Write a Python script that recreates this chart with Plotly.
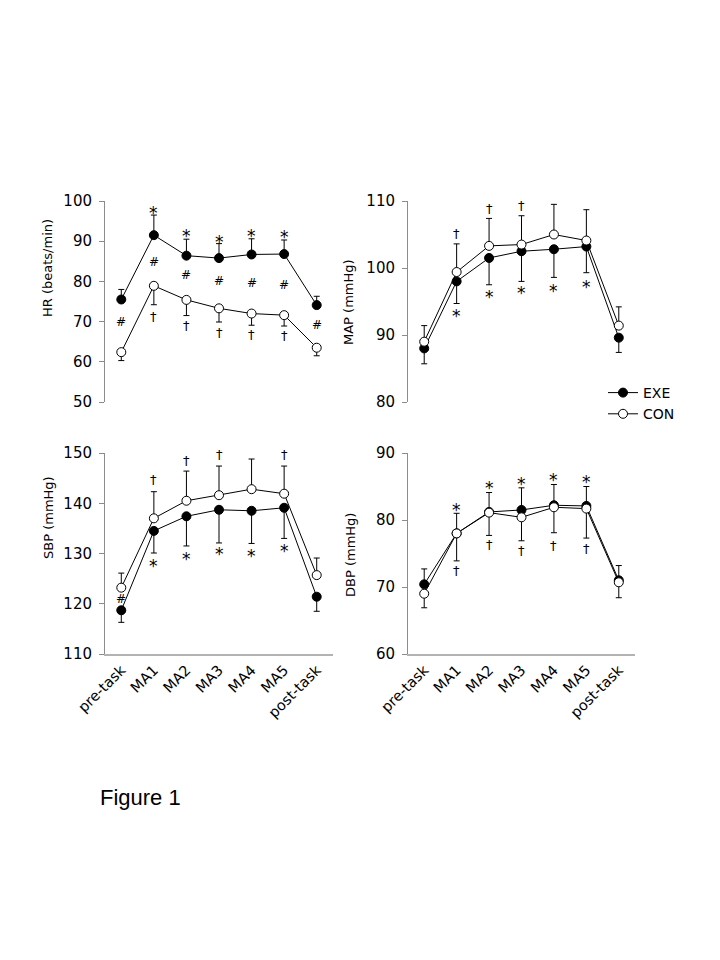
import plotly.graph_objects as go

categories = ["pre-task", "MA1", "MA2", "MA3", "MA4", "MA5", "post-task"]

# HR (beats/min)
hr_exe = [75.5, 91.5, 86.4, 85.8, 86.7, 86.8, 74.1]
hr_exe_sd = [2.5, 5.0, 4.1, 3.6, 3.9, 3.5, 2.2]
hr_con = [62.4, 78.9, 75.4, 73.3, 72.0, 71.6, 63.5]
hr_con_sd = [2.1, 4.7, 3.9, 3.4, 2.9, 2.7, 2.0]
hr_star_y = [97.9, 92.2, 90.9, 92.4, 92.0]
hr_hash_y = [69.9, 84.8, 81.5, 80.2, 79.6, 79.2, 69.1]
hr_dag_y = [71.2, 69.1, 67.2, 66.9, 66.5]

# MAP (mmHg)
map_exe = [88.0, 98.0, 101.5, 102.5, 102.8, 103.2, 89.6]
map_exe_sd = [2.3, 3.3, 4.0, 4.5, 4.2, 3.9, 2.2]
map_con = [89.0, 99.4, 103.3, 103.5, 105.0, 104.1, 91.4]
map_con_sd = [2.4, 4.2, 4.1, 4.3, 4.5, 4.6, 2.8]
map_dag_y = [105.2, 108.9, 109.4, 111.0, 110.1]
map_star_y = [93.4, 96.3, 96.8, 97.2, 97.7]

# SBP (mmHg)
sbp_exe = [118.7, 134.5, 137.4, 138.7, 138.5, 139.1, 121.4]
sbp_exe_sd = [2.4, 4.4, 5.9, 6.6, 6.5, 6.1, 2.9]
sbp_con = [123.2, 137.0, 140.5, 141.6, 142.8, 141.9, 125.7]
sbp_con_sd = [2.9, 5.3, 5.9, 5.8, 6.0, 5.5, 3.4]
sbp_hash_y = [121.0]
sbp_dag_y = [144.7, 148.5, 149.7, 151.5, 149.7]
sbp_star_y = [128.3, 129.7, 130.7, 130.3, 131.2]

# DBP (mmHg)
dbp_exe = [70.4, 78.0, 81.2, 81.5, 82.2, 82.1, 71.0]
dbp_exe_sd = [2.3, 3.0, 2.9, 3.3, 3.1, 2.9, 2.2]
dbp_con = [69.0, 78.0, 81.1, 80.4, 81.9, 81.7, 70.7]
dbp_con_sd = [2.1, 4.1, 3.4, 3.5, 3.8, 4.4, 2.3]
dbp_star_y = [82.1, 85.3, 86.0, 86.5, 86.3]
dbp_dag_y = [72.5, 76.3, 75.4, 76.2, 75.8]

FONT = "DejaVu Sans"
W, H = 720, 960
OFF = 8  # page body margin of the HTML page


def px_x(v):
    return (v - OFF) / W


def px_y(v):
    return 1 - (v - OFF) / H


panels = [
    dict(exe=hr_exe, exe_sd=hr_exe_sd, exe_up=True, con=hr_con, con_sd=hr_con_sd,
         title="HR (beats/min)", yr=[50, 100], xd=(105, 333), yd=(201, 402), bottom=False,
         tpos=(48, 268)),
    dict(exe=map_exe, exe_sd=map_exe_sd, exe_up=False, con=map_con, con_sd=map_con_sd,
         title="MAP (mmHg)", yr=[80, 110], xd=(408, 635), yd=(201, 402), bottom=False,
         tpos=(348, 302)),
    dict(exe=sbp_exe, exe_sd=sbp_exe_sd, exe_up=False, con=sbp_con, con_sd=sbp_con_sd,
         title="SBP (mmHg)", yr=[110, 150], xd=(105, 333), yd=(453, 654), bottom=True,
         tpos=(48, 518)),
    dict(exe=dbp_exe, exe_sd=dbp_exe_sd, exe_up=True, con=dbp_con, con_sd=dbp_con_sd,
         title="DBP (mmHg)", yr=[60, 90], xd=(408, 635), yd=(453, 654), bottom=True,
         tpos=(350, 555)),
]

fig = go.Figure()
annotations = []
xs = list(range(len(categories)))

for i, p in enumerate(panels):
    n = "" if i == 0 else str(i + 1)
    xa, ya = "x" + n, "y" + n
    zeros = [0] * len(xs)
    exe_up = p["exe_up"]
    fig.add_trace(go.Scatter(
        x=xs, y=p["exe"], xaxis=xa, yaxis=ya, mode="lines+markers", name="EXE",
        showlegend=(i == 0), legendrank=1,
        line=dict(color="black", width=1),
        marker=dict(symbol="circle", size=9, color="black", line=dict(color="black", width=1)),
        error_y=dict(type="data", symmetric=False,
                     array=p["exe_sd"] if exe_up else zeros,
                     arrayminus=zeros if exe_up else p["exe_sd"],
                     color="black", thickness=1, width=3),
        cliponaxis=False,
    ))
    fig.add_trace(go.Scatter(
        x=xs, y=p["con"], xaxis=xa, yaxis=ya, mode="lines+markers", name="CON",
        showlegend=(i == 0), legendrank=2,
        line=dict(color="black", width=1),
        marker=dict(symbol="circle", size=9, color="white", line=dict(color="black", width=1)),
        error_y=dict(type="data", symmetric=False,
                     array=zeros if exe_up else p["con_sd"],
                     arrayminus=p["con_sd"] if exe_up else zeros,
                     color="black", thickness=1, width=3),
        cliponaxis=False,
    ))
    x0, x1 = p["xd"]
    y0, y1 = p["yd"]
    xkey = "xaxis" + n
    ykey = "yaxis" + n
    fig.layout[xkey] = dict(
        domain=[px_x(x0), px_x(x1)], anchor=ya, range=[-0.5, 6.5], automargin=False,
        tickmode="array", tickvals=xs, ticktext=categories,
        showticklabels=p["bottom"], tickangle=-45,
        showline=p["bottom"], linecolor="#b3b3b3", linewidth=2,
        ticks="", showgrid=False, zeroline=False,
        tickfont=dict(family=FONT, size=14.5, color="black"),
    )
    fig.layout[ykey] = dict(
        domain=[px_y(y1), px_y(y0)], anchor=xa, range=p["yr"], dtick=10,
        automargin=False,
        showline=True, linecolor="#8c8c8c", linewidth=1,
        ticks="outside", ticklen=5, tickcolor="#8c8c8c", tickwidth=1,
        showgrid=False, zeroline=False, ticklabelstandoff=4,
        tickfont=dict(family=FONT, size=15, color="black"),
    )
    tx, ty = p["tpos"]
    annotations.append(dict(
        text=p["title"], x=px_x(tx), y=px_y(ty), xref="paper", yref="paper",
        textangle=-90, showarrow=False, xanchor="center", yanchor="middle",
        font=dict(family=FONT, size=13, color="black"),
    ))


def marks(sym, xi, ys, panel_idx, size, yshift=0):
    n = "" if panel_idx == 0 else str(panel_idx + 1)
    for x, y in zip(xi, ys):
        annotations.append(dict(
            text=sym, x=x, y=y, xref="x" + n, yref="y" + n, showarrow=False,
            xanchor="center", yanchor="middle", yshift=yshift,
            font=dict(family=FONT, size=size, color="black"),
        ))


ma = [1, 2, 3, 4, 5]
marks("*", ma, hr_star_y, 0, 17, -4)
marks("#", xs, hr_hash_y, 0, 12)
marks("†", ma, hr_dag_y, 0, 13)
marks("†", ma, map_dag_y, 1, 13)
marks("*", ma, map_star_y, 1, 17, -4)
marks("#", [0], sbp_hash_y, 2, 12)
marks("†", ma, sbp_dag_y, 2, 13)
marks("*", ma, sbp_star_y, 2, 17, -4)
marks("*", ma, dbp_star_y, 3, 17, -4)
marks("†", ma, dbp_dag_y, 3, 13)

annotations.append(dict(
    text="Figure 1", x=px_x(98), y=px_y(797), xref="paper", yref="paper",
    showarrow=False, xanchor="left", yanchor="middle",
    font=dict(family="Liberation Sans", size=22, color="black"),
))

fig.update_layout(
    width=W, height=H, margin=dict(l=0, r=0, t=0, b=0, autoexpand=False),
    paper_bgcolor="white", plot_bgcolor="white",
    annotations=annotations,
    showlegend=True,
    legend=dict(x=px_x(603), y=px_y(377), xanchor="left", yanchor="top",
                itemwidth=30, bgcolor="rgba(0,0,0,0)", tracegroupgap=0,
                font=dict(family=FONT, size=14, color="black")),
)

fig.write_html("out.html")
